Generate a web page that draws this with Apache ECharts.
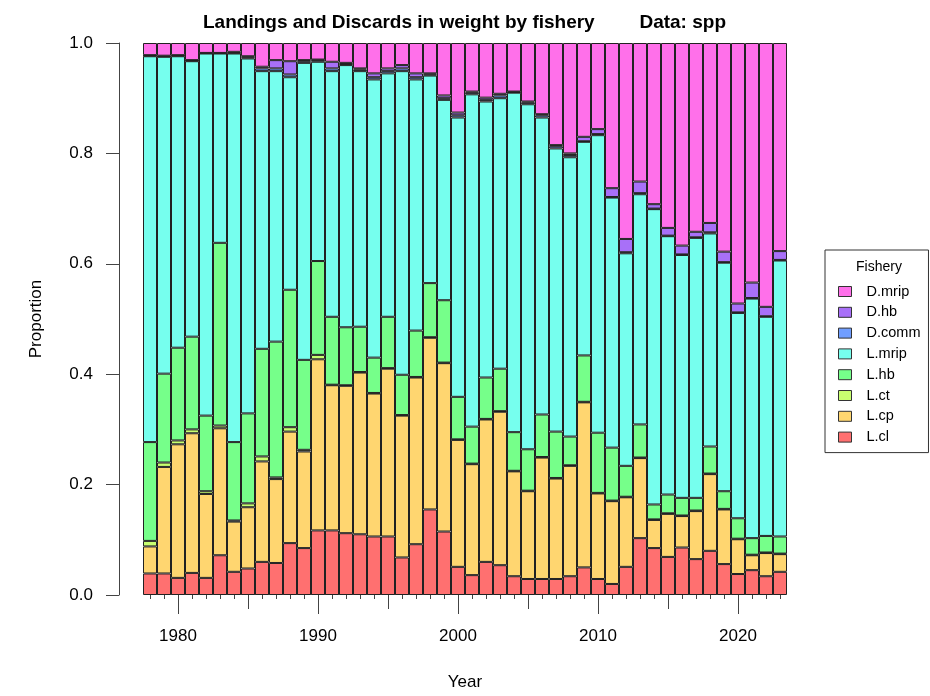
<!DOCTYPE html>
<html>
<head>
<meta charset="utf-8">
<title>Landings and Discards in weight by fishery</title>
<script src="https://cdn.jsdelivr.net/npm/echarts@6/dist/echarts.min.js"></script>
<style>
  html, body { margin: 0; padding: 0; background: #fff; }
  #chart { width: 930px; height: 696px; }
</style>
</head>
<body>
<div id="chart"></div>
<script>
// Years on the x axis
const years = [1978, 1979, 1980, 1981, 1982, 1983, 1984, 1985, 1986, 1987,
               1988, 1989, 1990, 1991, 1992, 1993, 1994, 1995, 1996, 1997,
               1998, 1999, 2000, 2001, 2002, 2003, 2004, 2005, 2006, 2007,
               2008, 2009, 2010, 2011, 2012, 2013, 2014, 2015, 2016, 2017,
               2018, 2019, 2020, 2021, 2022, 2023];

// Proportion of total weight by fishery, one value per year
const L_cl = [.039, .039, .031, .040, .031, .072, .042, .048, .060, .058,
              .094, .085, .117, .117, .112, .110, .106, .106, .068, .092,
              .155, .115, .051, .036, .060, .054, .034, .029, .029, .029,
              .034, .050, .029, .020, .051, .103, .085, .069, .086, .065,
              .080, .056, .038, .045, .034, .042];
const L_cp = [.049, .193, .242, .253, .152, .230, .091, .111, .182, .152,
              .202, .175, .310, .263, .267, .293, .259, .304, .257, .302,
              .311, .305, .230, .201, .258, .278, .190, .159, .220, .182,
              .200, .299, .155, .150, .126, .145, .051, .078, .057, .087,
              .139, .099, .063, .027, .042, .032];
const L_ct = [.010, .008, .007, .007, .005, .005, .002, .007, .009, .003,
              .008, .003, .008, .001, .001, .001, .001, .001, .001, .001,
              .001, .001, .001, .001, .001, .001, .001, .001, .001, .001,
              .001, .001, .001, .001, .001, .001, .001, .001, .001, .001,
              .001, .001, .001, .001, .001, .001];
const L_hb = [.179, .161, .168, .168, .137, .331, .142, .163, .195, .246,
              .249, .163, .170, .123, .105, .082, .064, .093, .073, .084,
              .098, .113, .077, .067, .075, .077, .070, .075, .077, .084,
              .052, .084, .109, .096, .056, .060, .027, .034, .032, .023,
              .049, .032, .037, .030, .030, .031];
const L_mrip = [.699, .574, .528, .499, .656, .343, .704, .643, .503, .490,
                .385, .538, .361, .445, .475, .463, .504, .441, .550, .455,
                .376, .363, .506, .602, .500, .490, .615, .625, .538, .513,
                .506, .387, .539, .453, .385, .417, .535, .468, .440, .471,
                .386, .414, .372, .434, .397, .500];
const D_comm = [.001, .001, .001, .001, .001, .001, .001, .002, .005, .005,
                .005, .003, .003, .005, .002, .003, .004, .004, .005, .004,
                .002, .003, .004, .003, .003, .005, .001, .003, .004, .004,
                .004, .001, .002, .001, .002, .002, .001, .001, .001, .001,
                .002, .001, .001, .001, .001, .001];
const D_hb = [.001, .001, .001, .001, .000, .000, .002, .002, .003, .015,
              .024, .002, .001, .012, .002, .002, .007, .005, .006, .007,
              .002, .005, .005, .002, .004, .003, .001, .002, .002, .002,
              .003, .008, .009, .016, .024, .021, .008, .014, .016, .010,
              .017, .019, .016, .028, .017, .016];
const D_mrip = [.022, .023, .022, .031, .018, .018, .016, .024, .043, .031,
                .033, .031, .030, .034, .036, .046, .055, .046, .040, .055,
                .055, .095, .126, .088, .099, .092, .088, .106, .129, .185,
                .200, .170, .156, .263, .355, .251, .292, .335, .367, .342,
                .326, .378, .472, .434, .478, .377];

// Stack order from the bottom up
const fisheries = ['L.cl', 'L.cp', 'L.ct', 'L.hb', 'L.mrip', 'D.comm', 'D.hb', 'D.mrip'];
const seriesValues = [L_cl, L_cp, L_ct, L_hb, L_mrip, D_comm, D_hb, D_mrip];
const colors = ['#FF7070', '#FFD670', '#C8FF70', '#76FF8A', '#76FFEE', '#709EFF', '#A870F8', '#FF70EA'];

// Tick positions
const yTicks = [0, 0.2, 0.4, 0.6, 0.8, 1.0];
const decadeTicks = [1980, 1990, 2000, 2010, 2020];
const halfDecadeTicks = [1985, 1995, 2005, 2015];

const FONT = 'Liberation Sans, Arial, Helvetica, sans-serif';
const AXIS_COLOR = '#444';

const chart = echarts.init(document.getElementById('chart'), null, { renderer: 'canvas' });

const series = fisheries.map((name, i) => ({
  name: name,
  type: 'bar',
  stack: 'total',
  xAxisIndex: 0,
  yAxisIndex: 0,
  barWidth: '100%',
  data: seriesValues[i],
  itemStyle: { color: colors[i], borderColor: '#222', borderWidth: 1 },
  emphasis: { disabled: true },
  animation: false
}));

const yearAxisBase = {
  type: 'value',
  gridIndex: 1,
  min: years[0],
  max: years[years.length - 1],
  position: 'bottom',
  offset: 5,
  splitLine: { show: false }
};

const titleFont = { fontFamily: FONT, fontSize: 19, fontWeight: 'bold', color: '#000' };

chart.setOption({
  backgroundColor: '#ffffff',
  animation: false,
  textStyle: { fontFamily: FONT },
  title: [
    {
      text: 'Landings and Discards in weight by fishery',
      left: 198, top: 8,
      textStyle: titleFont
    },
    {
      text: 'Data: spp',
      right: 199, top: 8,
      textStyle: titleFont
    },
    {
      text: 'Fishery',
      left: 851, top: 255,
      textStyle: { fontFamily: FONT, fontSize: 14, fontWeight: 'normal', color: '#000' }
    }
  ],
  legend: {
    orient: 'vertical',
    left: 825,
    top: 250,
    data: fisheries.slice().reverse(),
    padding: [34, 8, 8, 13],
    borderColor: '#333',
    borderWidth: 1,
    borderRadius: 0,
    itemWidth: 13,
    itemHeight: 10,
    itemGap: 5.8,
    icon: 'rect',
    selectedMode: false,
    itemStyle: { borderColor: '#333', borderWidth: 1 },
    textStyle: { fontFamily: FONT, fontSize: 14.5, color: '#000', lineHeight: 14, padding: [0, 0, 0, 10] }
  },
  grid: [
    { left: 143, top: 43, width: 644, height: 552, containLabel: false },
    { left: 150, top: 43, width: 630, height: 552, containLabel: false }
  ],
  xAxis: [
    {
      type: 'category',
      gridIndex: 0,
      data: years,
      show: false,
      boundaryGap: true
    },
    Object.assign({}, yearAxisBase, {
      interval: 1,
      axisLine: { show: true, lineStyle: { color: AXIS_COLOR, width: 1 } },
      axisTick: { show: true, length: 5, lineStyle: { color: AXIS_COLOR } },
      axisLabel: { show: false }
    }),
    Object.assign({}, yearAxisBase, {
      axisLine: { show: false },
      axisTick: { show: true, length: 10, customValues: halfDecadeTicks, lineStyle: { color: AXIS_COLOR } },
      axisLabel: { show: false }
    }),
    Object.assign({}, yearAxisBase, {
      axisLine: { show: false },
      axisTick: { show: true, length: 15, customValues: decadeTicks, lineStyle: { color: AXIS_COLOR } },
      axisLabel: {
        show: true, customValues: decadeTicks, margin: 29,
        fontFamily: FONT, fontSize: 17, color: '#000',
        formatter: v => String(v)
      },
      name: 'Year',
      nameLocation: 'middle',
      nameGap: 75,
      nameTextStyle: { fontFamily: FONT, fontSize: 17, color: '#000' }
    })
  ],
  yAxis: [
    {
      type: 'value',
      gridIndex: 0,
      min: 0,
      max: 1,
      interval: 0.2,
      offset: 24,
      axisLine: { show: true, lineStyle: { color: AXIS_COLOR, width: 1 } },
      axisTick: { show: true, length: 13, lineStyle: { color: AXIS_COLOR } },
      axisLabel: {
        margin: 26, fontFamily: FONT, fontSize: 17, color: '#000',
        customValues: yTicks,
        formatter: v => v.toFixed(1)
      },
      splitLine: { show: false },
      name: 'Proportion',
      nameLocation: 'middle',
      nameGap: 74,
      nameRotate: 90,
      nameTextStyle: { fontFamily: FONT, fontSize: 17, color: '#000' }
    },
    {
      type: 'value',
      gridIndex: 1,
      min: 0,
      max: 1,
      show: false
    }
  ],
  series: series
});
</script>
</body>
</html>
